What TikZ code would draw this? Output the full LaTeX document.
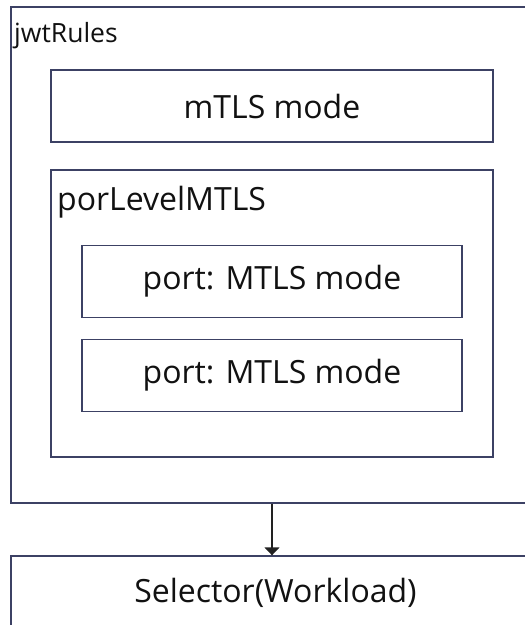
\documentclass[tikz,border=0pt]{standalone}
\usepackage{fontspec}
\setmainfont{Open Sans}
\usetikzlibrary{arrows.meta}
\definecolor{boxline}{HTML}{3C4164}
\definecolor{txt}{HTML}{111111}
\definecolor{arrowc}{HTML}{222222}
\begin{document}
\begin{tikzpicture}[x=1pt,y=-1pt,
  box/.style={draw=boxline,line width=1.4pt,rectangle,inner sep=0pt,text=txt},
  bigtxt/.style={font=\fontsize{32}{36}\selectfont},
  lbl/.style={inner sep=0pt,anchor=base west,text=txt}]
\useasboundingbox (0,0) rectangle (525,625);
\clip (0,0) rectangle (525,625);
\node[box,minimum width=529pt,minimum height=496pt] (outer) at (275.5,255) {};
\node[lbl,font=\fontsize{26.5}{30}\selectfont] (jwt) at (14,42) {jwtRules};
\node[box,bigtxt,minimum width=442pt,minimum height=72pt] (mode) at (272,106) {mTLS mode};
\node[box,minimum width=442pt,minimum height=287pt] (plm) at (272,313.5) {};
\node[lbl,font=\fontsize{32}{36}\selectfont] (plmlbl) at (57,210) {porLevelMTLS};
\node[box,bigtxt,minimum width=380pt,minimum height=72pt] (p1) at (272,281.5) {port: MTLS mode};
\node[box,bigtxt,minimum width=380pt,minimum height=72pt] (p2) at (272,375.5) {port: MTLS mode};
\node[box,bigtxt,minimum width=529pt,minimum height=74pt] (sel) at (275.5,593) {Selector(Workload)};
\draw[arrowc,line width=1.4pt,-{Triangle[width=15pt,length=8pt]}] (outer.south -| mode.center) -- (sel.north -| mode.center);
\end{tikzpicture}
\end{document}
